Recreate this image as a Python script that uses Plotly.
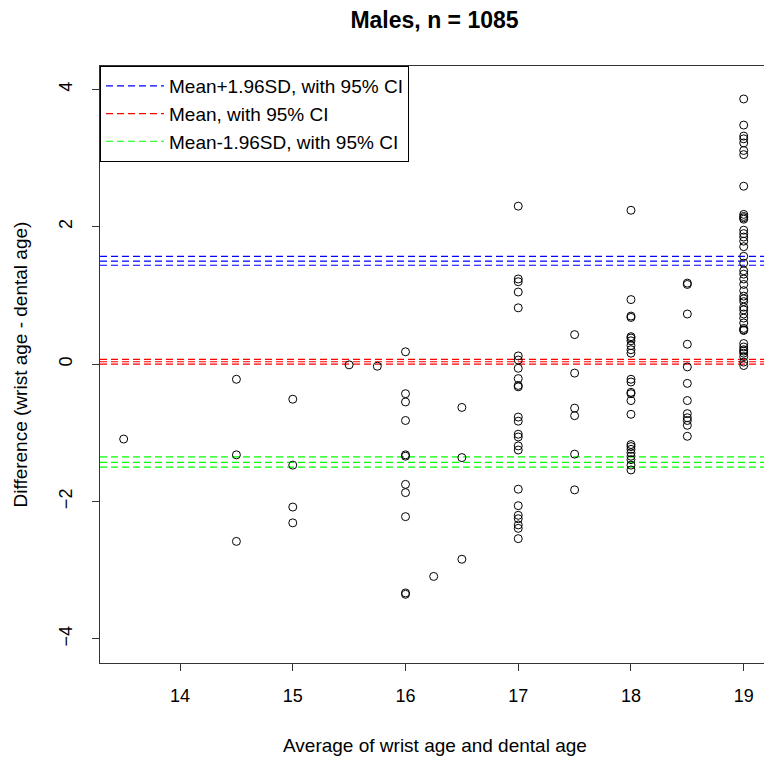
import plotly.graph_objects as go

# ---- data ----
col_13_5 = [-1.09]
col_14_5 = [-0.22, -1.32, -2.58]
col_15 = [-0.51, -1.47, -2.08, -2.31]
col_15_5 = [-0.01]
col_15_75 = [-0.03]
col_16 = [0.18, -0.43, -0.55, -0.82, -1.32, -1.34, -1.75, -1.87, -2.22, -3.33, -3.35]
col_16_25 = [-3.09]
col_16_5 = [-0.63, -1.36, -2.84]
col_17 = [2.30, 1.24, 1.20, 1.05, 0.82, 0.12, 0.06, -0.06, -0.21, -0.31, -0.33, -0.77, -0.83,
          -1.02, -1.06, -1.19, -1.25, -1.82, -2.06, -2.20, -2.25, -2.34, -2.39, -2.54]
col_17_5 = [0.43, -0.13, -0.64, -0.75, -1.31, -1.83]
col_18 = [2.24, 0.94, 0.70, 0.68, 0.40, 0.38, 0.34, 0.27, 0.21, 0.16, -0.22, -0.26, -0.41,
          -0.43, -0.53, -0.73, -1.17, -1.20, -1.24, -1.29, -1.34, -1.39, -1.47, -1.54]
col_18_5 = [1.18, 1.16, 0.73, 0.29, -0.04, -0.28, -0.53, -0.72, -0.78, -0.82, -0.89, -1.05]
col_19 = [3.86, 3.48, 3.32, 3.28, 3.22, 3.11, 3.05, 2.59, 2.18, 2.15, 2.13, 2.11, 1.95, 1.90,
          1.85, 1.79, 1.71, 1.57, 1.47, 1.36, 1.31, 1.24, 1.16, 1.07, 0.99, 0.95, 0.91, 0.83,
          0.79, 0.73, 0.67, 0.60, 0.52, 0.50, 0.49, 0.30, 0.25, 0.21, 0.19, 0.16, 0.11, 0.03, -0.02]

columns = {13.5: col_13_5, 14.5: col_14_5, 15.0: col_15, 15.5: col_15_5, 15.75: col_15_75,
           16.0: col_16, 16.25: col_16_25, 16.5: col_16_5, 17.0: col_17, 17.5: col_17_5,
           18.0: col_18, 18.5: col_18_5, 19.0: col_19}

upper_loa = [1.44, 1.50, 1.57]   # Mean+1.96SD with 95% CI
mean_line = [0.00, 0.035, 0.07]  # Mean with 95% CI
lower_loa = [-1.50, -1.43, -1.35]  # Mean-1.96SD with 95% CI

x_ticks = [14, 15, 16, 17, 18, 19]
y_ticks = [-4, -2, 0, 2, 4]

X_RANGE = [13.29, 19.18]
Y_RANGE = [-4.35, 4.34]

FONT = "Liberation Sans, Arial, sans-serif"

xs, ys = [], []
for k, vals in columns.items():
    for v in vals:
        xs.append(k)
        ys.append(v)

fig = go.Figure()


def hlines(vals, color, name):
    lx, ly = [], []
    for v in vals:
        lx += [X_RANGE[0], X_RANGE[1], None]
        ly += [v, v, None]
    fig.add_trace(go.Scatter(x=lx, y=ly, mode="lines", name=name,
                             line=dict(color=color, width=1.2, dash="7px,4px"),
                             hoverinfo="skip"))


hlines(upper_loa, "#0000FF", "Mean+1.96SD, with 95% CI")
hlines(mean_line, "#FF0000", "Mean, with 95% CI")
hlines(lower_loa, "#00FF00", "Mean-1.96SD, with 95% CI")

fig.add_trace(go.Scatter(x=xs, y=ys, mode="markers", showlegend=False,
                         marker=dict(symbol="circle-open", size=8, color="black",
                                     line=dict(color="black", width=1))))

fig.update_layout(
    width=764, height=758, autosize=False,
    margin=dict(l=100, r=0, t=66, b=95),
    paper_bgcolor="white", plot_bgcolor="white",
    font=dict(family=FONT, size=19, color="black"),
    title=dict(text="<b>Males, n = 1085</b>", x=(434.5 - 100) / 664, xref="paper",
               xanchor="center", y=1 - 20 / 758, yref="container", yanchor="middle",
               font=dict(size=23, family=FONT, color="black")),
    legend=dict(x=0, y=1, xanchor="left", yanchor="top", bordercolor="black",
                borderwidth=1, bgcolor="white", font=dict(size=19, family=FONT),
                tracegroupgap=0, itemwidth=58),
    xaxis=dict(range=X_RANGE, tickvals=x_ticks, ticks="outside", ticklen=7,
               tickcolor="#333", showline=True, linecolor="#333", linewidth=1,
               mirror=True, showgrid=False, zeroline=False, ticklabelstandoff=9,
               tickfont=dict(size=18)),
    yaxis=dict(range=Y_RANGE, tickvals=y_ticks, ticks="outside", ticklen=7,
               tickcolor="#333", showline=True, linecolor="#333", linewidth=1,
               showgrid=False, zeroline=False, tickangle=-90, ticklabelstandoff=13,
               tickfont=dict(size=18)),
    annotations=[
        dict(text="Average of wrist age and dental age", xref="paper", yref="paper",
             x=(434.5 - 100) / 664, y=(663 - 745) / 597, xanchor="center", yanchor="middle",
             showarrow=False, font=dict(size=19)),
        dict(text="Difference (wrist age - dental age)", xref="paper", yref="paper",
             x=(20 - 100) / 664, y=0.5, xanchor="center", yanchor="middle",
             textangle=-90, showarrow=False, font=dict(size=19)),
    ],
)

fig.write_html("out.html")
